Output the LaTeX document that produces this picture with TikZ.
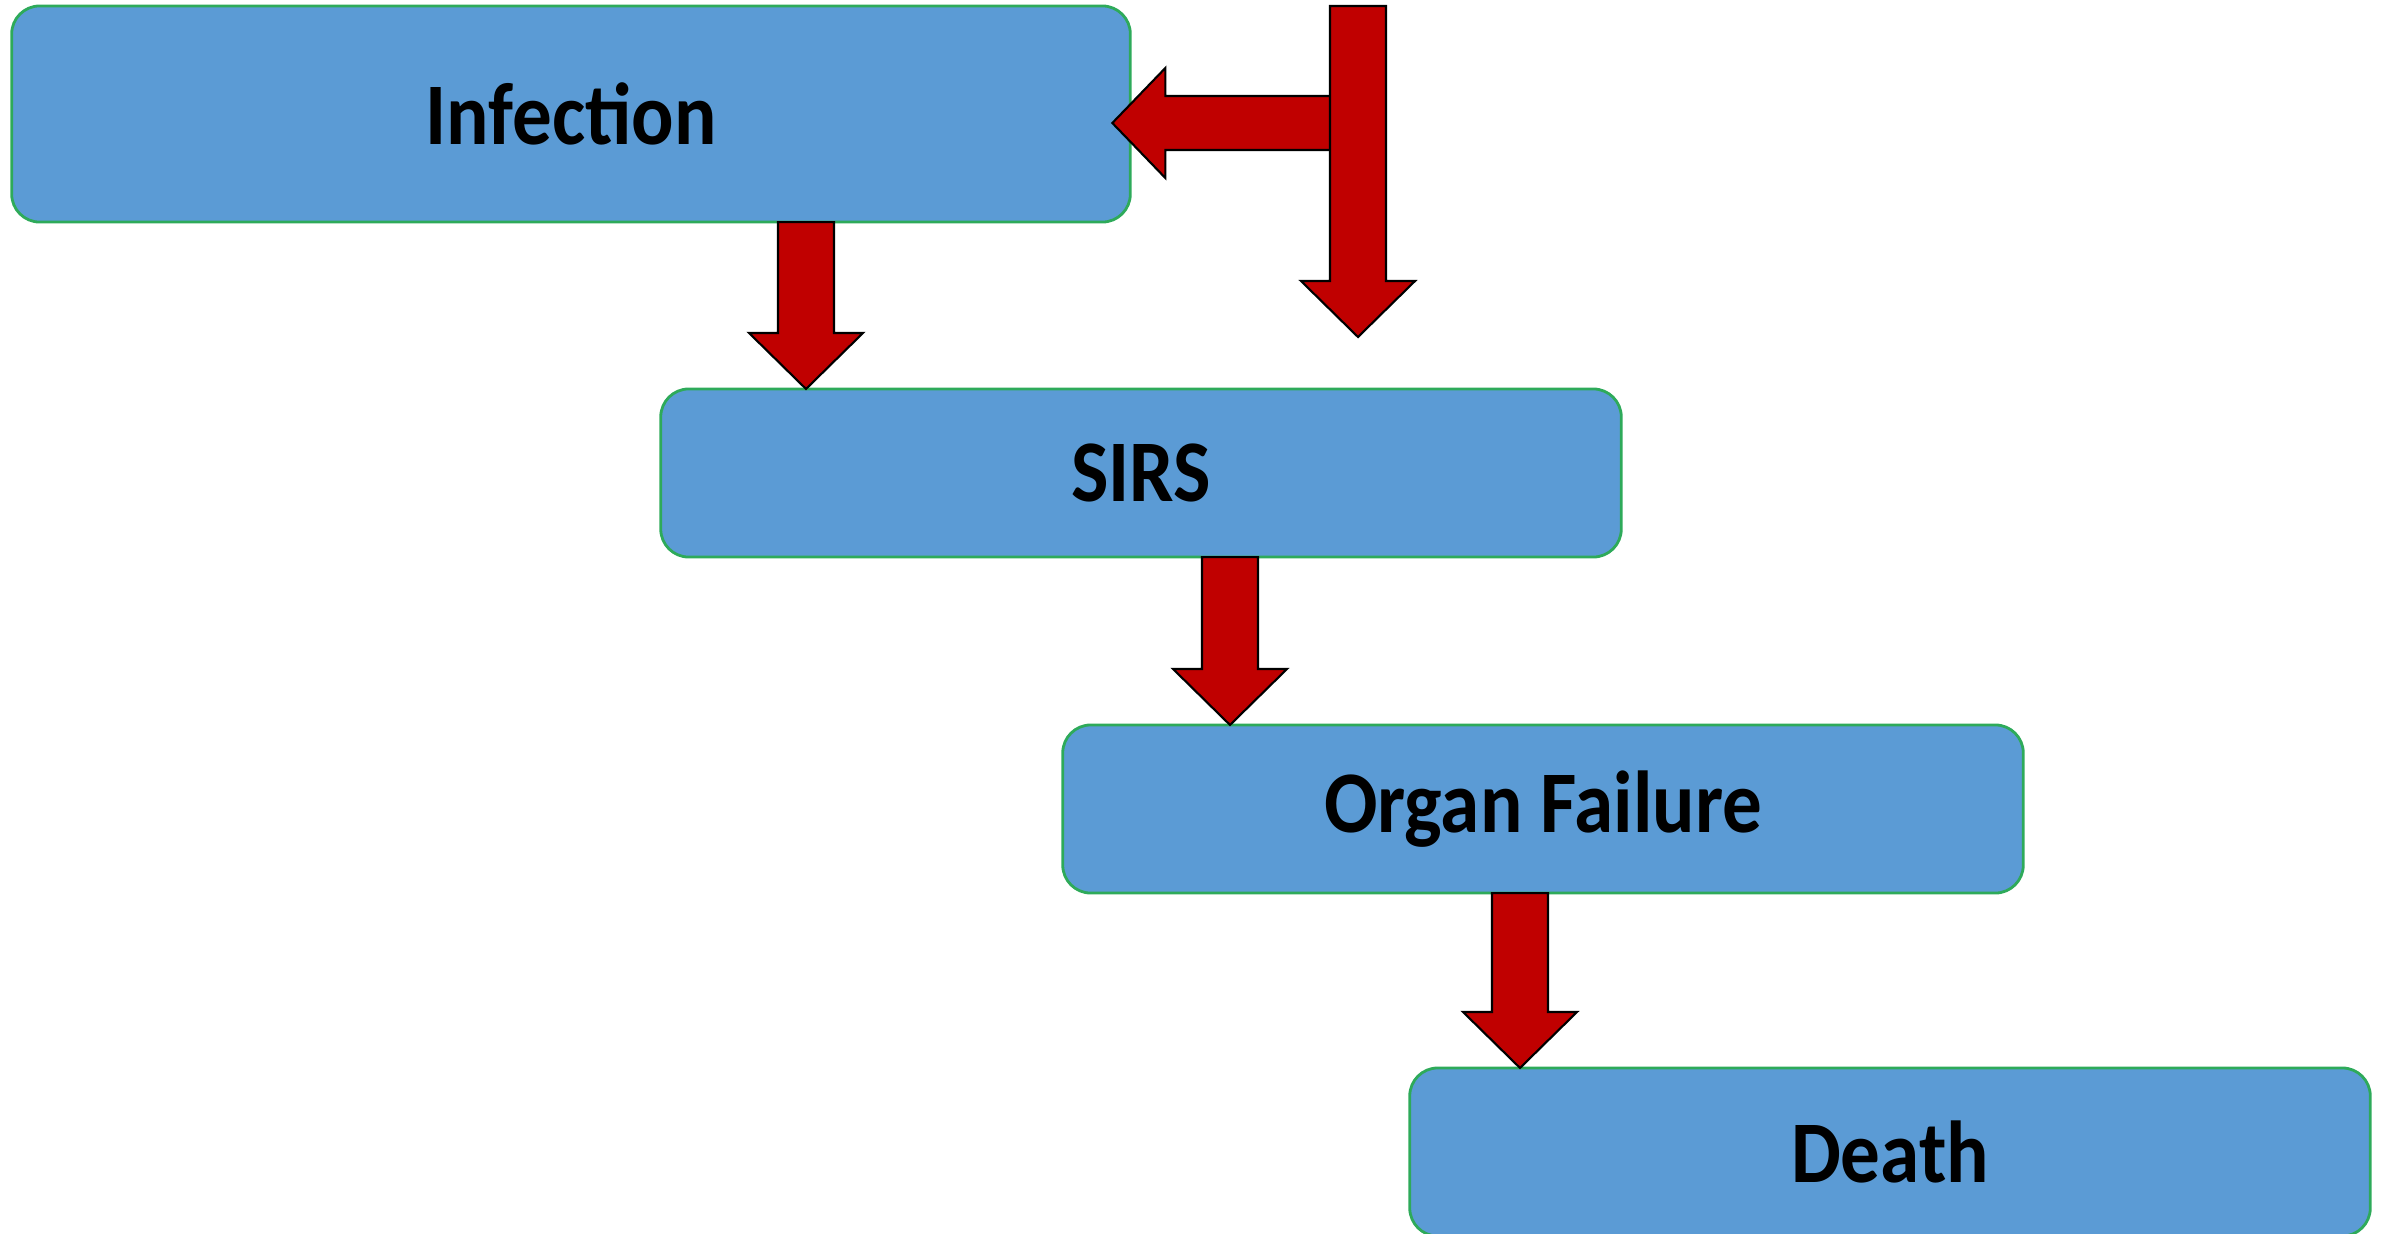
\documentclass[tikz,border=0pt]{standalone}
\usepackage{fontspec}
\setmainfont[FakeStretch=0.9]{Carlito}
\usetikzlibrary{calc}
\definecolor{boxblue}{HTML}{5B9BD5}
\definecolor{boxline}{HTML}{2EAA5A}
\definecolor{arrowred}{HTML}{C00000}
\newcommand{\fatdown}[2]{%
  \draw[fat] ($(#1)+(-28,0)$) -- ($(#2)+(-28,-56)$) -- ($(#2)+(-57,-56)$) -- (#2)
    -- ($(#2)+(57,-56)$) -- ($(#2)+(28,-56)$) -- ($(#1)+(28,0)$) -- cycle;}
\begin{document}
\begin{tikzpicture}[x=0.01cm,y=-0.01cm,
  stage/.style={draw=boxline,line width=0.8pt,fill=boxblue,rounded corners=0.28cm,
    minimum width=9.6cm,minimum height=1.68cm,outer sep=0pt,
    font=\fontsize{25}{30}\selectfont\bfseries},
  fat/.style={draw=black,line width=0.6pt,fill=arrowred,line join=miter}]
\useasboundingbox (0,0) rectangle (2382,1233);
\node[stage,minimum width=11.18cm,minimum height=2.16cm] (infection) at (571,114) {Infection};
\node[stage] (sirs) at (1141,473) {SIRS};
\node[stage] (organ) at (1543,809) {Organ Failure};
\node[stage] (death) at (1890,1152) {Death};
\coordinate (top) at (1358,6);
\coordinate (topend) at (1358,337);
\coordinate (branch) at (1358,123);
\coordinate (hit) at ($(infection.east)+(-18,9)$);
\draw[fat] ($(branch)+(0,-27)$) -- ($(hit)+(53,-27)$) -- ($(hit)+(53,-55)$) -- (hit)
  -- ($(hit)+(53,55)$) -- ($(hit)+(53,27)$) -- ($(branch)+(0,27)$) -- cycle;
\fatdown{top}{topend}
\coordinate (a1) at (806,0 |- infection.south);
\coordinate (b1) at (806,0 |- sirs.north);
\fatdown{a1}{b1}
\coordinate (a2) at (1230,0 |- sirs.south);
\coordinate (b2) at (1230,0 |- organ.north);
\fatdown{a2}{b2}
\coordinate (a3) at (1520,0 |- organ.south);
\coordinate (b3) at (1520,0 |- death.north);
\fatdown{a3}{b3}
\end{tikzpicture}
\end{document}
